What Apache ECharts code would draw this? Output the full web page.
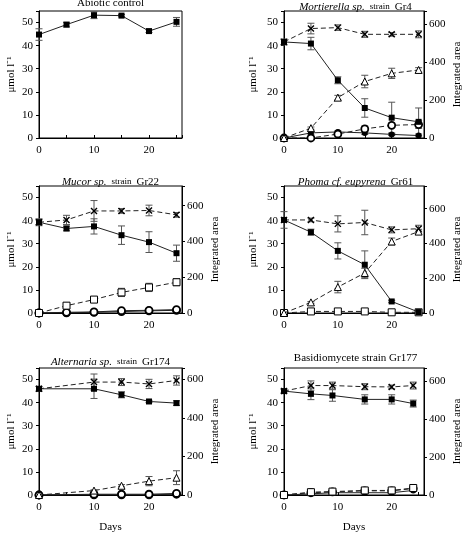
<!DOCTYPE html>
<html><head><meta charset="utf-8">
<script src="https://cdn.jsdelivr.net/npm/echarts@6/dist/echarts.min.js"></script>
<style>html,body{margin:0;padding:0;background:#fff}#c{width:464px;height:535px}</style>
</head><body><div id="c"></div>
<script>
// ---------- DATA ----------
const yTicksLeft = [0, 10, 20, 30, 40, 50];
const yTicksRight = [0, 200, 400, 600];
const xTicks = [0, 10, 20];

// Abiotic control
const abDays = [0, 5, 10, 15, 20, 25];
const abSq = [44.8, 49.1, 53.2, 53.0, 46.3, 50.3];
const abSqErr = [2.5, 1.0, 1.5, 0.5, 0.6, 1.9];

// Mortierella sp. strain Gr4
const moDays = [0, 5, 10, 15, 20, 25];
const moSq = [41.6, 40.9, 25.0, 13.0, 8.8, 7.0];
const moSqErr = [1.3, 2.7, 1.5, 4.0, 6.7, 6.0];
const moX = [41.6, 47.4, 47.8, 44.9, 44.9, 44.9];
const moXErr = [0, 2.3, 1.2, 1.3, 0.8, 1.5];
const moTri = [0, 52, 213, 298, 341, 359];
const moTriErr = [0, 6, 12, 33, 27, 12];
const moOC = [0, 0, 21, 48, 67, 71];
const moOCErr = [0, 0, 5, 15, 12, 20];
const moFC = [0, 27, 32, 27, 19, 13];
const moFCErr = [0, 10, 6, 8, 6, 8];

// Mucor sp. strain Gr22
const muDays = [0, 5, 10, 15, 20, 25];
const muSq = [39.3, 36.6, 37.5, 33.7, 30.7, 25.9];
const muSqErr = [1.5, 1.0, 3.3, 4.0, 4.5, 3.5];
const muX = [39.3, 40.3, 44.2, 44.2, 44.4, 42.5];
const muXErr = [1.0, 2.0, 4.5, 1.0, 2.3, 1.0];
const muOS = [0, 41, 75, 115, 143, 172];
const muOSErr = [0, 13, 13, 23, 23, 19];
const muOC1 = [0, 4, 6, 13, 15, 19];
const muOC2 = [0, 1, 4, 8, 12, 15];

// Phoma cf. eupyrena Gr61
const phDays = [0, 5, 10, 15, 20, 25];
const phSq = [40.3, 35.0, 26.9, 20.9, 5.0, 0.4];
const phSqErr = [3.6, 1.3, 3.5, 6.0, 0.5, 0.3];
const phX = [40.3, 40.3, 38.6, 39.2, 36.0, 36.5];
const phXErr = [0, 0.8, 3.5, 5.3, 1.3, 1.5];
const phTri = [0, 61, 149, 230, 411, 468];
const phTriErr = [0, 5, 33, 27, 20, 13];
const phOS = [0, 9, 9, 9, 4, 4];

// Alternaria sp. strain Gr174
const alDays = [0, 10, 15, 20, 25];
const alSq = [46.0, 46.0, 43.4, 40.5, 39.8];
const alSqErr = [1.0, 4.2, 1.3, 0.5, 1.0];
const alX = [46.0, 48.9, 48.9, 48.1, 49.6];
const alXErr = [0, 3.5, 1.5, 2.0, 2.0];
const alTri = [0, 23, 48, 72, 90];
const alTriErr = [0, 4, 6, 24, 36];
const alOC1 = [0, 4, 4, 4, 8];
const alOC2 = [0, 1, 1, 1, 4];

// Basidiomycete strain Gr177
const baDays = [0, 5, 9, 15, 20, 24];
const baSq = [45.0, 43.8, 43.1, 41.4, 41.4, 39.6];
const baSqErr = [0.8, 2.5, 2.5, 2.0, 2.0, 1.5];
const baX = [45.0, 47.4, 47.4, 46.9, 46.8, 47.4];
const baXErr = [0, 2.0, 1.5, 1.3, 0.8, 1.5];
const baOS = [0, 15, 18, 24, 24, 37];
const baOSErr = [0, 5, 5, 6, 6, 6];
const baOC = [0, 12, 16, 22, 22, 34];
const baFC = [0, 6, 12, 12, 12, 24];

// ---------- BUILD ----------
const FONT = "'Liberation Serif','Times New Roman',serif";
const XSYM = 'path://M0,1.4L1.4,0L5,3.6L8.6,0L10,1.4L6.4,5L10,8.6L8.6,10L5,6.4L1.4,10L0,8.6L3.6,5Z';
const STY = {
  sq:  {symbol: 'rect', size: 6, fill: '#000', border: '#000', bw: 0},
  x:   {symbol: XSYM, size: 7, fill: '#000', border: '#000', bw: 0},
  tri: {symbol: 'triangle', size: 7, fill: '#fff', border: '#000', bw: 1},
  os:  {symbol: 'rect', size: 7, fill: '#fff', border: '#000', bw: 1},
  oc:  {symbol: 'circle', size: 7, fill: '#fff', border: '#000', bw: 1.8},
  fc:  {symbol: 'circle', size: 6, fill: '#000', border: '#000', bw: 0}
};

const panels = [
  {left: 39, top: 11, titleTop: -2, title: '{n|Abiotic control}', rightMax: null, days: abDays, bottom: false,
   series: [{v: abSq, e: abSqErr, s: 'sq', dash: false, r: false}]},
  {left: 284, top: 11, titleTop: -2, title: '{i|Mortierella sp.} {s|strain} {n|Gr4}', rightMax: 670, days: moDays, bottom: false,
   series: [
     {v: moFC, e: moFCErr, s: 'fc', dash: false, r: true},
     {v: moOC, e: moOCErr, s: 'oc', dash: true, r: true},
     {v: moTri, e: moTriErr, s: 'tri', dash: true, r: true},
     {v: moX, e: moXErr, s: 'x', dash: true, r: false},
     {v: moSq, e: moSqErr, s: 'sq', dash: false, r: false}]},
  {left: 39, top: 186, titleTop: 173, title: '{i|Mucor sp.} {s|strain} {n|Gr22}', rightMax: 710, days: muDays, bottom: false,
   series: [
     {v: muOC2, e: null, s: 'oc', dash: false, r: true},
     {v: muOC1, e: null, s: 'oc', dash: false, r: true},
     {v: muOS, e: muOSErr, s: 'os', dash: true, r: true},
     {v: muX, e: muXErr, s: 'x', dash: true, r: false},
     {v: muSq, e: muSqErr, s: 'sq', dash: false, r: false}]},
  {left: 284, top: 186, titleTop: 173, title: '{i|Phoma cf. eupyrena} {n|Gr61}', rightMax: 730, days: phDays, bottom: false,
   series: [
     {v: phOS, e: null, s: 'os', dash: true, r: true},
     {v: phTri, e: phTriErr, s: 'tri', dash: true, r: true},
     {v: phX, e: phXErr, s: 'x', dash: true, r: false},
     {v: phSq, e: phSqErr, s: 'sq', dash: false, r: false}]},
  {left: 39, top: 368, titleTop: 353, title: '{i|Alternaria sp.} {s|strain} {n|Gr174}', rightMax: 660, days: alDays, bottom: true,
   series: [
     {v: alOC2, e: null, s: 'oc', dash: false, r: true},
     {v: alOC1, e: null, s: 'oc', dash: false, r: true},
     {v: alTri, e: alTriErr, s: 'tri', dash: true, r: true},
     {v: alX, e: alXErr, s: 'x', dash: true, r: false},
     {v: alSq, e: alSqErr, s: 'sq', dash: false, r: false}]},
  {left: 284, top: 368, titleTop: 353, title: '{n|Basidiomycete strain Gr177}', rightMax: 670, days: baDays, bottom: true,
   series: [
     {v: baFC, e: null, s: 'fc', dash: false, r: true},
     {v: baOC, e: null, s: 'oc', dash: true, r: true},
     {v: baOS, e: baOSErr, s: 'os', dash: true, r: true},
     {v: baX, e: baXErr, s: 'x', dash: true, r: false},
     {v: baSq, e: baSqErr, s: 'sq', dash: false, r: false}]}
];

const W = 143, H = 127;
const grids = [], xAxes = [], yAxes = [], series = [], titles = [];
const lblStyle = {fontFamily: FONT, fontSize: 11, color: '#000'};

function errRender(params, api) {
  const lo = api.coord([api.value(0), api.value(1)]);
  const hi = api.coord([api.value(0), api.value(2)]);
  const w = 3.5, st = {stroke: '#555', lineWidth: 1};
  return {type: 'group', children: [
    {type: 'line', shape: {x1: lo[0], y1: lo[1], x2: hi[0], y2: hi[1]}, style: st},
    {type: 'line', shape: {x1: lo[0] - w, y1: lo[1], x2: lo[0] + w, y2: lo[1]}, style: st},
    {type: 'line', shape: {x1: hi[0] - w, y1: hi[1], x2: hi[0] + w, y2: hi[1]}, style: st}
  ]};
}

panels.forEach((p, gi) => {
  grids.push({left: p.left, top: p.top, width: W, height: H, show: true, borderColor: '#000', borderWidth: 1, backgroundColor: 'transparent'});
  xAxes.push({
    type: 'value', gridIndex: gi, min: 0, max: 26, interval: 5,
    axisLine: {lineStyle: {color: '#000', width: 1}},
    axisTick: {inside: true, length: 3, lineStyle: {color: '#000'}},
    axisLabel: Object.assign({margin: 7, formatter: v => xTicks.includes(v) ? String(v) : ''}, lblStyle),
    splitLine: {show: false},
    name: p.bottom ? 'Days' : '', nameLocation: 'middle', nameGap: 27,
    nameTextStyle: {fontFamily: FONT, fontSize: 11, color: '#000'}
  });
  const leftIdx = yAxes.length;
  yAxes.push({
    type: 'value', gridIndex: gi, position: 'left', min: 0, max: 55, interval: 10,
    axisLine: {show: true, lineStyle: {color: '#000', width: 1}},
    axisTick: {show: true, length: 3, lineStyle: {color: '#000'}},
    axisLabel: Object.assign({margin: 6, formatter: v => yTicksLeft.includes(v) ? String(v) : ''}, lblStyle),
    splitLine: {show: false},
    name: 'μmol l⁻¹', nameLocation: 'middle', nameRotate: 90, nameGap: p.left < 100 ? 22 : 25,
    nameTextStyle: {fontFamily: FONT, fontSize: 11, color: '#000'}
  });
  let rightIdx = leftIdx;
  if (p.rightMax) {
    rightIdx = yAxes.length;
    yAxes.push({
      type: 'value', gridIndex: gi, position: 'right', min: 0, max: p.rightMax, interval: 200,
      axisLine: {show: true, lineStyle: {color: '#000', width: 1}},
      axisTick: {show: true, length: 3, lineStyle: {color: '#000'}},
      axisLabel: Object.assign({margin: 5, formatter: v => yTicksRight.includes(v) ? String(v) : ''}, lblStyle),
      splitLine: {show: false},
      name: 'Integrated area', nameLocation: 'middle', nameRotate: 90, nameGap: 28,
      nameTextStyle: {fontFamily: FONT, fontSize: 11, color: '#000'}
    });
  }
  titles.push({
    text: p.title, left: p.left + W / 2, top: p.titleTop, textAlign: 'center', padding: 0,
    textStyle: {fontWeight: 'normal', rich: {
      n: {fontFamily: FONT, fontSize: 11, fontWeight: 'normal', color: '#000'},
      i: {fontFamily: FONT, fontSize: 11, fontStyle: 'italic', fontWeight: 'normal', color: '#000'},
      s: {fontFamily: FONT, fontSize: 9, fontWeight: 'normal', color: '#000'}
    }}
  });
  p.series.forEach((s, k) => {
    const st = STY[s.s];
    const yi = s.r ? rightIdx : leftIdx;
    if (s.e) {
      const ed = [];
      p.days.forEach((d, i) => { if (s.e[i] > 0) ed.push([d, s.v[i] - s.e[i], s.v[i] + s.e[i]]); });
      series.push({type: 'custom', xAxisIndex: gi, yAxisIndex: yi, renderItem: errRender,
        encode: {x: 0, y: [1, 2]}, data: ed, z: 1, silent: true});
    }
    series.push({
      type: 'line', xAxisIndex: gi, yAxisIndex: yi,
      data: p.days.map((d, i) => [d, s.v[i]]),
      symbol: st.symbol, symbolSize: st.size, showAllSymbol: true,
      itemStyle: {color: st.fill, borderColor: st.border, borderWidth: st.bw},
      lineStyle: {color: '#222', width: 1, type: s.dash ? [5, 3] : 'solid'},
      z: 2 + k, silent: true
    });
  });
});

const chart = echarts.init(document.getElementById('c'), null, {renderer: 'canvas'});
chart.setOption({
  animation: false, backgroundColor: '#fff',
  title: titles, grid: grids, xAxis: xAxes, yAxis: yAxes, series: series
});
</script></body></html>
